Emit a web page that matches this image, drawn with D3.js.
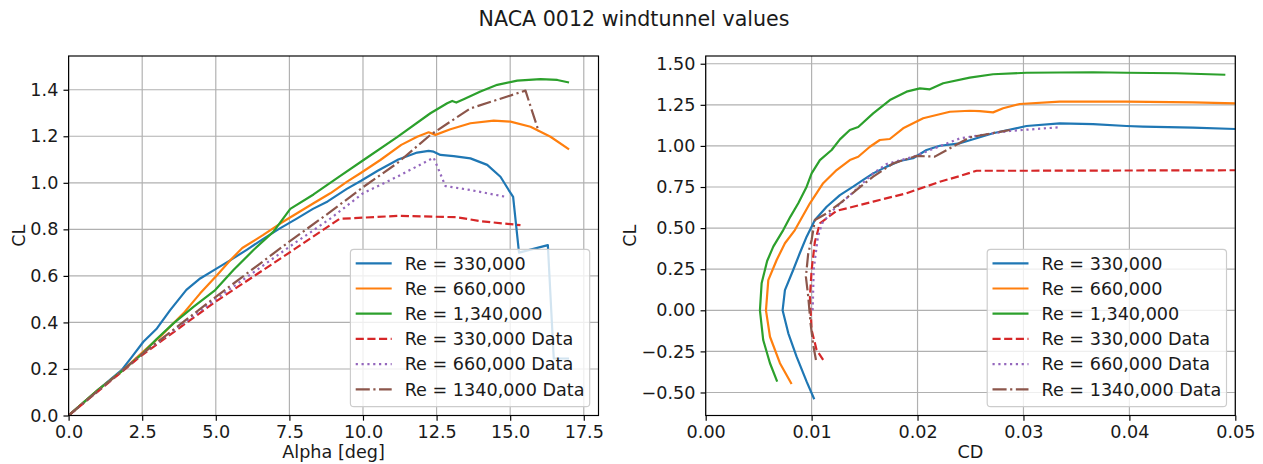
<!DOCTYPE html>
<html>
<head>
<meta charset="utf-8">
<script src="https://cdn.jsdelivr.net/npm/d3@7"></script>
<style>
  html, body { margin: 0; padding: 0; background: #fff; }
  svg { display: block; }
  text { font-family: "DejaVu Sans", sans-serif; fill: #1a1a1a; }
</style>
</head>
<body>
<svg id="chart" width="1263" height="464"></svg>
<script>
// ---------------- DATA ----------------
const chartTitle = "NACA 0012 windtunnel values";
const seriesNames = ["Re = 330,000", "Re = 660,000", "Re = 1,340,000",
                     "Re = 330,000 Data", "Re = 660,000 Data", "Re = 1340,000 Data"];
const seriesColors = ["#1f77b4", "#ff7f0e", "#2ca02c", "#d62728", "#9467bd", "#8c564b"];
const seriesDash = ["", "", "", "8.14,3.52", "2.2,3.63", "14.1,3.52,2.2,3.52"];

// Left panel: [alpha (deg), CL]
const alphaCl330 = [[0,0],[1,0.11],[1.8,0.195],[2.15,0.252],[2.54,0.317],[3.0,0.374],[3.45,0.453],[4.0,0.54],[4.47,0.589],[4.98,0.628],[5.5,0.668],[6.05,0.712],[6.6,0.758],[7.15,0.802],[7.75,0.846],[8.3,0.888],[8.8,0.92],[9.45,0.974],[9.95,1.01],[10.5,1.052],[11.2,1.1],[11.84,1.13],[12.23,1.137],[12.4,1.134],[12.63,1.12],[13.08,1.115],[13.65,1.105],[14.22,1.077],[14.67,1.026],[14.95,0.969],[15.1,0.94],[15.3,0.70],[16.28,0.732],[16.48,0.245],[17.0,0.245]];
const alphaCl660 = [[0,0],[1,0.11],[1.8,0.19],[2.5,0.27],[3.2,0.35],[3.9,0.439],[4.47,0.525],[5.04,0.603],[5.5,0.668],[5.9,0.72],[6.6,0.775],[7.2,0.826],[7.76,0.869],[8.32,0.912],[8.89,0.955],[9.46,1.005],[9.91,1.041],[10.59,1.098],[11.3,1.163],[11.84,1.198],[12.23,1.217],[12.46,1.206],[12.97,1.23],[13.65,1.256],[14.44,1.267],[15.01,1.263],[15.69,1.241],[16.37,1.198],[17.0,1.144]];
const alphaCl1340 = [[0,0],[1,0.11],[1.8,0.19],[2.5,0.265],[3.0,0.33],[3.56,0.396],[4.24,0.467],[4.98,0.539],[5.6,0.625],[6.28,0.711],[6.96,0.79],[7.53,0.888],[8.32,0.95],[9.23,1.03],[10.02,1.098],[11.16,1.196],[12.29,1.299],[12.86,1.342],[13.03,1.352],[13.17,1.345],[13.42,1.359],[13.99,1.392],[14.56,1.421],[15.24,1.439],[16.03,1.446],[16.6,1.442],[17.0,1.431]];
const alphaCl330Data = [[0,0],[2.5,0.26],[5,0.49],[7.5,0.70],[9.2,0.845],[11.2,0.858],[13.2,0.852],[14.0,0.835],[15.35,0.818]];
const alphaCl660Data = [[0,0],[2.5,0.265],[5,0.5],[7.5,0.725],[8.9,0.847],[10.0,0.955],[11.16,1.026],[12.4,1.108],[12.8,0.986],[13.65,0.969],[14.84,0.94]];
const alphaCl1340Data = [[0,0],[2.5,0.265],[5,0.51],[7.42,0.74],[8.9,0.876],[10.02,0.983],[11.16,1.084],[12.29,1.206],[13.65,1.32],[15.52,1.396],[15.97,1.22]];

// Right panel: [CD, CL]
const cdCl330 = [[0.01025,-0.541],[0.00953,-0.434],[0.00858,-0.282],[0.0078,-0.14],[0.00726,0.0],[0.00748,0.123],[0.00826,0.245],[0.0089,0.35],[0.00953,0.448],[0.01031,0.549],[0.01142,0.63],[0.01267,0.701],[0.01392,0.752],[0.01487,0.793],[0.01581,0.833],[0.01708,0.874],[0.01833,0.908],[0.01958,0.925],[0.02085,0.975],[0.0221,1.001],[0.024,1.016],[0.02713,1.077],[0.03028,1.121],[0.03342,1.137],[0.03657,1.133],[0.03972,1.121],[0.04128,1.117],[0.046,1.111],[0.05,1.103],[0.052,1.10]];
const cdCl660 = [[0.00811,-0.448],[0.00701,-0.322],[0.00607,-0.161],[0.00569,0.0],[0.00591,0.184],[0.0067,0.306],[0.00748,0.408],[0.00842,0.488],[0.00984,0.651],[0.01109,0.773],[0.01236,0.853],[0.01361,0.914],[0.0144,0.934],[0.0155,0.995],[0.01644,1.036],[0.01738,1.042],[0.01864,1.107],[0.02053,1.168],[0.02305,1.208],[0.02493,1.214],[0.02588,1.212],[0.02713,1.204],[0.02808,1.229],[0.02965,1.255],[0.03342,1.269],[0.03972,1.269],[0.046,1.265],[0.05,1.259],[0.052,1.256]];
const cdCl1340 = [[0.00675,-0.434],[0.00607,-0.322],[0.00543,-0.181],[0.00512,0.0],[0.00528,0.164],[0.0058,0.3],[0.00638,0.387],[0.00732,0.488],[0.0080,0.57],[0.00874,0.651],[0.00953,0.752],[0.01,0.833],[0.01078,0.914],[0.01189,0.975],[0.01267,1.04],[0.01361,1.097],[0.0144,1.115],[0.01581,1.198],[0.01739,1.279],[0.01896,1.33],[0.02022,1.35],[0.02116,1.344],[0.02242,1.381],[0.02493,1.415],[0.02713,1.436],[0.03028,1.445],[0.03657,1.448],[0.03972,1.445],[0.04443,1.442],[0.04906,1.433]];
const cdCl330Data = [[0.01109,-0.302],[0.01047,-0.241],[0.01,-0.12],[0.00984,0.083],[0.01,0.245],[0.01031,0.417],[0.01078,0.529],[0.01236,0.605],[0.01581,0.661],[0.01896,0.712],[0.0221,0.782],[0.024,0.817],[0.02557,0.849],[0.03028,0.849],[0.05,0.852],[0.052,0.852]];
const cdCl660Data = [[0.0101,0.0],[0.0102,0.25],[0.0106,0.45],[0.011,0.53],[0.01204,0.61],[0.01361,0.70],[0.01581,0.833],[0.01708,0.89],[0.01958,0.934],[0.024,1.046],[0.02713,1.077],[0.02871,1.091],[0.03327,1.113]];
const cdCl1340Data = [[0.01041,-0.302],[0.01015,-0.211],[0.0099,-0.079],[0.00968,0.083],[0.00946,0.204],[0.00968,0.347],[0.01,0.428],[0.01031,0.549],[0.01142,0.59],[0.01267,0.651],[0.01424,0.732],[0.01581,0.813],[0.0177,0.894],[0.0199,0.939],[0.02163,0.935],[0.02493,1.052],[0.02871,1.097]];

// Ticks
const leftXTicks = [0, 2.5, 5, 7.5, 10, 12.5, 15, 17.5];
const leftYTicks = [0, 0.2, 0.4, 0.6, 0.8, 1.0, 1.2, 1.4];
const rightXTicks = [0, 0.01, 0.02, 0.03, 0.04, 0.05];
const rightYTicks = [-0.5, -0.25, 0, 0.25, 0.5, 0.75, 1.0, 1.25, 1.5];
const leftXLabel = "Alpha [deg]";
const rightXLabel = "CD";
const yLabel = "CL";

// ---------------- DRAW ----------------
const svg = d3.select("#chart");
const FS = 17.6;
const LW = 2.2;
const THIN = 1.17;
const TICK = 5.13;
const minusFmt = f => (v => f(v).replace("-", "\u2212"));

svg.append("text")
  .attr("x", 634).attr("y", 26)
  .attr("text-anchor", "middle")
  .style("font-size", "20.6px")
  .text(chartTitle);

function panel(cfg) {
  const x = d3.scaleLinear().domain(cfg.xDomain).range([cfg.x0, cfg.x1]);
  const y = d3.scaleLinear().domain(cfg.yDomain).range([cfg.y1, cfg.y0]);
  const g = svg.append("g");

  // grid
  g.append("g").selectAll("line").data(cfg.xTicks).join("line")
    .attr("x1", d => x(d)).attr("x2", d => x(d))
    .attr("y1", cfg.y0).attr("y2", cfg.y1)
    .attr("stroke", "#b0b0b0").attr("stroke-width", THIN);
  g.append("g").selectAll("line").data(cfg.yTicks).join("line")
    .attr("y1", d => y(d)).attr("y2", d => y(d))
    .attr("x1", cfg.x0).attr("x2", cfg.x1)
    .attr("stroke", "#b0b0b0").attr("stroke-width", THIN);

  // clip
  const cid = "clip" + cfg.id;
  svg.append("clipPath").attr("id", cid).append("rect")
    .attr("x", cfg.x0).attr("y", cfg.y0)
    .attr("width", cfg.x1 - cfg.x0).attr("height", cfg.y1 - cfg.y0);

  const line = d3.line().x(d => x(d[0])).y(d => y(d[1]));
  const lg = g.append("g").attr("clip-path", `url(#${cid})`);
  cfg.series.forEach((s, i) => {
    lg.append("path").datum(s)
      .attr("d", line)
      .attr("fill", "none")
      .attr("stroke", seriesColors[i])
      .attr("stroke-width", LW)
      .attr("stroke-linejoin", "round")
      .attr("stroke-dasharray", seriesDash[i] || null);
  });

  // axes
  const ax = g.append("g").attr("transform", `translate(0,${cfg.y1})`)
    .call(d3.axisBottom(x).tickValues(cfg.xTicks).tickFormat(minusFmt(cfg.xFmt))
      .tickSize(TICK).tickPadding(TICK));
  const ay = g.append("g").attr("transform", `translate(${cfg.x0},0)`)
    .call(d3.axisLeft(y).tickValues(cfg.yTicks).tickFormat(minusFmt(cfg.yFmt))
      .tickSize(TICK).tickPadding(TICK));
  [ax, ay].forEach(a => {
    a.select(".domain").remove();
    a.selectAll(".tick line").attr("stroke", "#000").attr("stroke-width", THIN);
    a.selectAll(".tick text").style("font-size", FS + "px")
      .style("font-family", "DejaVu Sans, sans-serif").attr("fill", "#1a1a1a");
  });

  // spines
  g.append("rect").attr("x", cfg.x0).attr("y", cfg.y0)
    .attr("width", cfg.x1 - cfg.x0).attr("height", cfg.y1 - cfg.y0)
    .attr("fill", "none").attr("stroke", "#000").attr("stroke-width", THIN);

  // labels
  g.append("text").attr("x", (cfg.x0 + cfg.x1) / 2).attr("y", 458)
    .attr("text-anchor", "middle").style("font-size", FS + "px").text(cfg.xLabel);
  g.append("text")
    .attr("transform", `translate(${cfg.yLabelX},${(cfg.y0 + cfg.y1) / 2}) rotate(-90)`)
    .attr("text-anchor", "middle")
    .style("font-size", FS + "px").text(yLabel);

  // legend
  const lw = 239.3, lh = 157.4;
  const lx = cfg.x1 - 8.8 - lw, ly = cfg.y1 - 8.8 - lh;
  const leg = g.append("g");
  leg.append("rect").attr("x", lx).attr("y", ly).attr("width", lw).attr("height", lh)
    .attr("rx", 3.5).attr("fill", "#fff").attr("fill-opacity", 0.8)
    .attr("stroke", "#cccccc").attr("stroke-width", THIN);
  seriesNames.forEach((name, i) => {
    const cy = ly + 14 + i * 25.2;
    leg.append("line").attr("x1", lx + 5.3).attr("x2", lx + 41.3)
      .attr("y1", cy).attr("y2", cy)
      .attr("stroke", seriesColors[i]).attr("stroke-width", LW)
      .attr("stroke-dasharray", seriesDash[i] || null);
    leg.append("text").attr("x", lx + 54.3).attr("y", cy).attr("dy", "0.36em")
      .style("font-size", FS + "px").text(name);
  });
}

panel({
  id: "L", x0: 68.6, x1: 598.5, y0: 56, y1: 415.5,
  xDomain: [0, 18], yDomain: [0, 1.545],
  xTicks: leftXTicks, yTicks: leftYTicks,
  xFmt: d3.format(".1f"), yFmt: d3.format(".1f"),
  xLabel: leftXLabel, yLabelX: 25,
  series: [alphaCl330, alphaCl660, alphaCl1340, alphaCl330Data, alphaCl660Data, alphaCl1340Data]
});
panel({
  id: "R", x0: 705.7, x1: 1235.3, y0: 56, y1: 415.5,
  xDomain: [0, 0.05], yDomain: [-0.640, 1.547],
  xTicks: rightXTicks, yTicks: rightYTicks,
  xFmt: d3.format(".2f"), yFmt: d3.format(".2f"),
  xLabel: rightXLabel, yLabelX: 636,
  series: [cdCl330, cdCl660, cdCl1340, cdCl330Data, cdCl660Data, cdCl1340Data]
});
</script>
</body>
</html>
